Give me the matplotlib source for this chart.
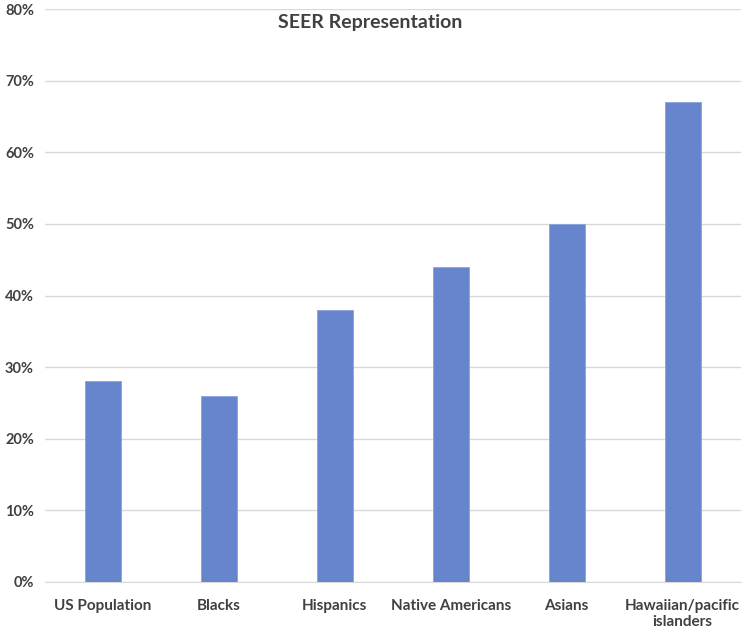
import numpy as np
import matplotlib.pyplot as plt
from matplotlib.ticker import PercentFormatter

categories = ['US Population', 'Blacks', 'Hispanics', 'Native Americans', 'Asians',
              'Hawaiian/pacific\nislanders']
values = [28, 26, 38, 44, 50, 67]
yticks = [0, 10, 20, 30, 40, 50, 60, 70, 80]

plt.rcParams['font.family'] = ['Lato', 'DejaVu Sans']

fig = plt.figure(figsize=(7.44, 6.3), dpi=100)
ax = fig.add_axes([0.0605, 0.0762, 0.935, 0.9095])

x = np.arange(len(categories))
ax.bar(x, values, width=0.31, color='#6685cc', edgecolor='#8aa3dc', linewidth=0.6, zorder=3)

ax.set_xlim(-0.5, len(categories) - 0.5)
ax.set_ylim(0, 80)
ax.set_yticks(yticks)
ax.yaxis.set_major_formatter(PercentFormatter(decimals=0))
ax.set_xticks(x)
ax.set_xticklabels(categories, fontsize=11, fontweight='bold', color='#404040')
for lbl in ax.get_yticklabels():
    lbl.set_fontsize(10.5)
    lbl.set_fontweight('bold')
    lbl.set_color('#404040')

ax.grid(axis='y', color='#d9d9d9', linewidth=1, zorder=0)
for s in ['top', 'right', 'left']:
    ax.spines[s].set_visible(False)
ax.spines['bottom'].set_color('#d9d9d9')
ax.tick_params(axis='both', length=0)
ax.tick_params(axis='x', pad=12)
ax.tick_params(axis='y', pad=8)

fig.text(0.497, 0.965, 'SEER Representation', ha='center', va='center',
         fontsize=14, fontweight='bold', color='#404040')

fig.savefig('out.png', dpi=100)
